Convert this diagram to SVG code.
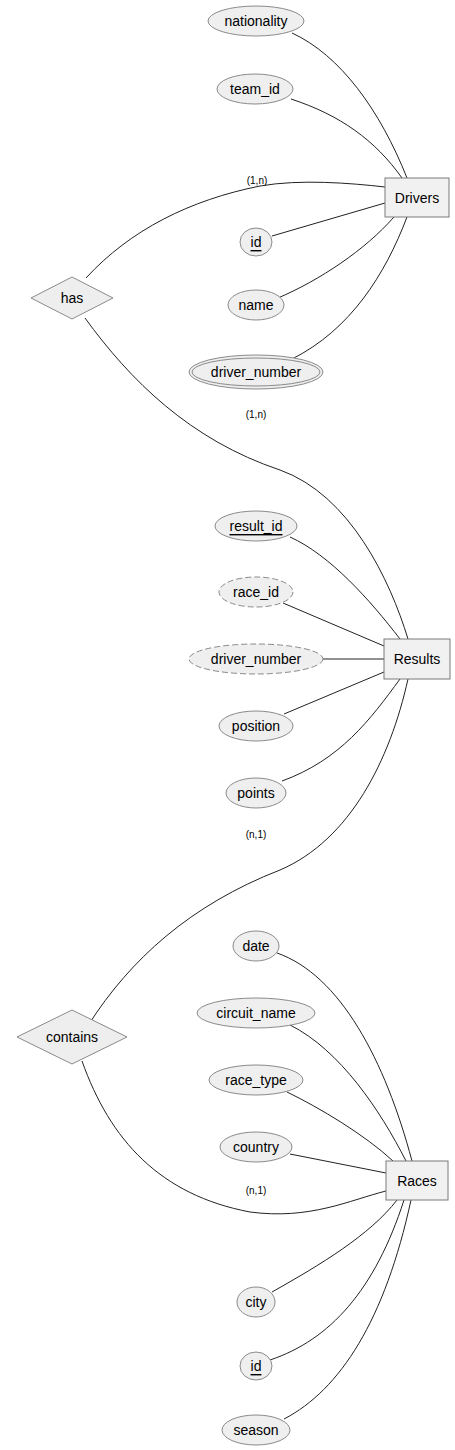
<svg xmlns="http://www.w3.org/2000/svg" width="455" height="1450" viewBox="0 0 455 1450">
<style>
.attr{fill:#efefef;stroke:#8a8a8a;stroke-width:1}
.dash{stroke-dasharray:6,3}
.ent{fill:#f1f1f1;stroke:#7a7a7a;stroke-width:1}
.rel{fill:#eeeeee;stroke:#8a8a8a;stroke-width:1}
.t{font-family:"Liberation Sans",Arial,sans-serif;font-size:14px;fill:#000;text-anchor:middle;dominant-baseline:central}
.u{text-decoration:underline}
.lbl{font-family:"Liberation Sans",Arial,sans-serif;font-size:10px;fill:#000;text-anchor:middle;dominant-baseline:central}
.e{fill:none;stroke:#222;stroke-width:1}
</style>
<rect width="455" height="1450" fill="#fff"/>
<g id="connectors">
<path class="e" d="M292,33 C340,55 380,110 407,178"/>
<path class="e" d="M291,99 C340,115 375,140 402,178"/>
<path class="e" d="M86,278 C130,230 190,200 260,186 C300,179 350,183 385,187"/>
<path class="e" d="M272,236 L385,203"/>
<path class="e" d="M278,298 C320,280 365,250 394,217"/>
<path class="e" d="M292,359 C350,330 385,275 407,217"/>
<path class="e" d="M85,318 C130,380 190,440 280,470 C350,495 390,580 408,639"/>
<path class="e" d="M290,537 C330,555 370,600 400,639"/>
<path class="e" d="M283,603 L384,646"/>
<path class="e" d="M323,659 L384,659"/>
<path class="e" d="M284,714 L384,672"/>
<path class="e" d="M282,781 C340,760 370,720 400,679"/>
<path class="e" d="M408,679 C390,760 350,840 280,870 C190,905 130,960 89,1024"/>
<path class="e" d="M277,953 C340,975 385,1060 412,1161"/>
<path class="e" d="M290,1025 C340,1050 380,1110 406,1161"/>
<path class="e" d="M287,1092 C320,1108 365,1135 393,1161"/>
<path class="e" d="M290,1154 L386,1173"/>
<path class="e" d="M82,1061 C110,1140 160,1195 250,1212 C310,1220 350,1200 386,1191"/>
<path class="e" d="M272,1292 C320,1265 370,1235 397,1200"/>
<path class="e" d="M270,1360 C330,1340 375,1290 404,1200"/>
<path class="e" d="M284,1419 C340,1390 385,1320 411,1200"/>
<text class="lbl" x="257" y="180">(1,n)</text>
<text class="lbl" x="256" y="414">(1,n)</text>
<text class="lbl" x="256" y="834">(n,1)</text>
<text class="lbl" x="256" y="1190">(n,1)</text>
</g>
<g id="Drivers"><rect class="ent" x="385" y="178" width="64" height="39"/><text class="t" x="417" y="198">Drivers</text></g>
<g id="Results"><rect class="ent" x="384" y="639" width="66" height="40"/><text class="t" x="417" y="659">Results</text></g>
<g id="Races"><rect class="ent" x="386" y="1161" width="62" height="39"/><text class="t" x="417" y="1181">Races</text></g>
<g id="has"><polygon class="rel" points="31,298 72,277 113,298 72,319"/><text class="t" x="72" y="298">has</text></g>
<g id="contains"><polygon class="rel" points="17,1037 72,1010 127,1037 72,1064"/><text class="t" x="72" y="1037">contains</text></g>
<g id="drivers_nationality"><ellipse class="attr" cx="256" cy="21" rx="48" ry="15"/><text class="t" x="256" y="21">nationality</text></g>
<g id="drivers_team_id"><ellipse class="attr" cx="255" cy="89" rx="38" ry="15"/><text class="t" x="255" y="89">team_id</text></g>
<g id="drivers_id"><ellipse class="attr" cx="256" cy="242" rx="16" ry="14"/><text class="t u" x="256" y="242">id</text></g>
<g id="drivers_name"><ellipse class="attr" cx="256" cy="305" rx="28" ry="15"/><text class="t" x="256" y="305">name</text></g>
<g id="drivers_driver_number"><ellipse class="attr" cx="256" cy="372" rx="67" ry="17"/><ellipse class="attr" cx="256" cy="372" rx="64" ry="14"/><text class="t" x="256" y="372">driver_number</text></g>
<g id="results_result_id"><ellipse class="attr" cx="256" cy="526" rx="41" ry="15"/><text class="t u" x="256" y="526">result_id</text></g>
<g id="results_race_id"><ellipse class="attr dash" cx="256" cy="592" rx="37" ry="15"/><text class="t" x="256" y="592">race_id</text></g>
<g id="results_driver_number"><ellipse class="attr dash" cx="256" cy="659" rx="67" ry="15"/><text class="t" x="256" y="659">driver_number</text></g>
<g id="results_position"><ellipse class="attr" cx="256" cy="726" rx="37" ry="15"/><text class="t" x="256" y="726">position</text></g>
<g id="results_points"><ellipse class="attr" cx="256" cy="793" rx="30" ry="15"/><text class="t" x="256" y="793">points</text></g>
<g id="races_date"><ellipse class="attr" cx="256" cy="946" rx="23" ry="15"/><text class="t" x="256" y="946">date</text></g>
<g id="races_circuit_name"><ellipse class="attr" cx="256" cy="1013" rx="59" ry="15"/><text class="t" x="256" y="1013">circuit_name</text></g>
<g id="races_race_type"><ellipse class="attr" cx="256" cy="1080" rx="47" ry="15"/><text class="t" x="256" y="1080">race_type</text></g>
<g id="races_country"><ellipse class="attr" cx="256" cy="1147" rx="36" ry="15"/><text class="t" x="256" y="1147">country</text></g>
<g id="races_city"><ellipse class="attr" cx="256" cy="1302" rx="19" ry="15"/><text class="t" x="256" y="1302">city</text></g>
<g id="races_id"><ellipse class="attr" cx="256" cy="1366" rx="16" ry="14"/><text class="t u" x="256" y="1366">id</text></g>
<g id="races_season"><ellipse class="attr" cx="256" cy="1430" rx="34" ry="15"/><text class="t" x="256" y="1430">season</text></g>
</svg>
